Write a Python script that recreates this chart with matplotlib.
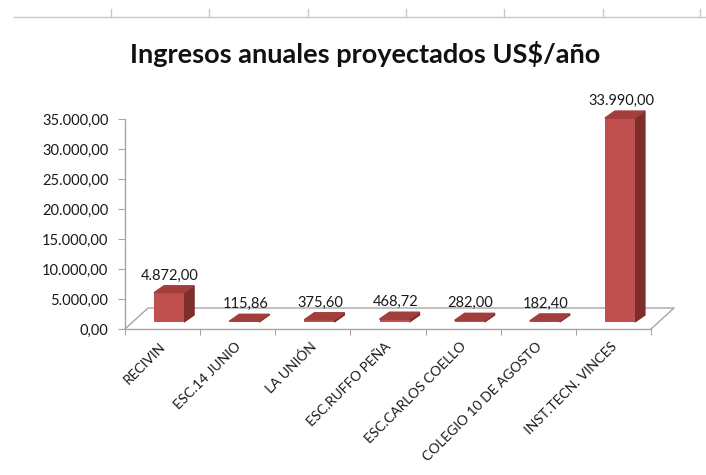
import numpy as np
import matplotlib
matplotlib.use("Agg")
import matplotlib.pyplot as plt
from matplotlib.patches import Polygon
from matplotlib.lines import Line2D

categorias = ["RECIVIN", "ESC.14 JUNIO", "LA UNIÓN", "ESC.RUFFO PEÑA",
              "ESC.CARLOS COELLO", "COLEGIO 10 DE AGOSTO", "INST.TECN. VINCES"]
ingresos = [4872.00, 115.86, 375.60, 468.72, 282.00, 182.40, 33990.00]
ticks_y = np.arange(0, 35001, 5000)
titulo = "Ingresos anuales proyectados US$/año"

plt.rcParams['font.family'] = ['Lato', 'DejaVu Sans']

C_FRENTE = "#C0504D"
C_LADO = "#7D2E2B"
C_TAPA = "#A23E3B"
C_EJE = "#A6A6A6"


def fmt(v):
    # formato es: 33990 -> 33.990,00
    return f"{v:,.2f}".replace(",", "X").replace(".", ",").replace("X", ".")


W, H = 706, 475
fig = plt.figure(figsize=(W / 100, H / 100), dpi=100)

# area del grafico en pixeles
x0, x1, y_base, y_top = 125, 651, 329, 119
ax = fig.add_axes([x0 / W, 1 - y_base / H, (x1 - x0) / W, (y_base - y_top) / H])
n = len(categorias)
ax.set_xlim(-0.5, n - 0.5)
ax.set_ylim(0, ticks_y[-1])

px_x = n / (x1 - x0)                # categorias por pixel
px_y = ticks_y[-1] / (y_base - y_top)  # valor por pixel

for s in ["top", "right"]:
    ax.spines[s].set_visible(False)
for s in ["left", "bottom"]:
    ax.spines[s].set_color(C_EJE)
    ax.spines[s].set_linewidth(1.0)

ax.set_yticks(ticks_y)
ax.set_yticklabels([fmt(t) for t in ticks_y], fontsize=10.5, color="#1A1A1A")
ax.tick_params(axis="y", length=5, color=C_EJE, pad=7)
ax.set_xticks(np.arange(n + 1) - 0.5)
ax.set_xticklabels([])
ax.tick_params(axis="x", length=4.5, color=C_EJE)

# piso en perspectiva
fx, fy = 23 * px_x, 21 * px_y
ax.plot([-0.5, -0.5 + fx, n - 0.5 + fx, n - 0.5], [0, fy, fy, 0],
        color=C_EJE, lw=1.0, clip_on=False, zorder=1)

# barras 3D: frente, lado y tapa
xs = np.arange(n) + 6.5 * px_x
w = 30 * px_x
base = 7 * px_y
dx, dy = 10 * px_x, 7 * px_y
vals = np.array(ingresos)
ax.bar(xs, vals, width=w, bottom=base, color=C_FRENTE, zorder=3, clip_on=False)
for xc, v in zip(xs, vals):
    r, l = xc + w / 2, xc - w / 2
    top = base + v
    ax.add_patch(Polygon([(r, base), (r, top), (r + dx, top + dy), (r + dx, base + dy)],
                         closed=True, color=C_LADO, zorder=2, clip_on=False))
    ax.add_patch(Polygon([(l, top), (r, top), (r + dx, top + dy), (l + dx, top + dy)],
                         closed=True, color=C_TAPA, zorder=4, clip_on=False))
    ax.text(xc + 0.1 * dx, top + dy + 3 * px_y, fmt(v), ha="center", va="bottom",
            fontsize=10.5, color="#1A1A1A", clip_on=False)

# etiquetas de categorias inclinadas
for i, c in enumerate(categorias):
    ax.text(i - 3 * px_x, -11 * px_y, c, rotation=45, rotation_mode="anchor",
            ha="right", va="top", fontsize=10, color="#1A1A1A", clip_on=False)

fig.text(365 / W, 1 - 54 / H, titulo, ha="center", va="center",
         fontsize=19.5, fontweight="bold", color="#111111")

# bordes de celdas arriba
lc = "#BFC8D6"
fig.add_artist(Line2D([14 / W, 1], [1 - 17 / H, 1 - 17 / H], color=lc, lw=1.0))
for xp in [111, 209, 308, 406, 504, 603, 700]:
    fig.add_artist(Line2D([xp / W, xp / W], [1 - 9 / H, 1 - 17 / H], color=lc, lw=1.0))

fig.savefig("out.png", dpi=100)
